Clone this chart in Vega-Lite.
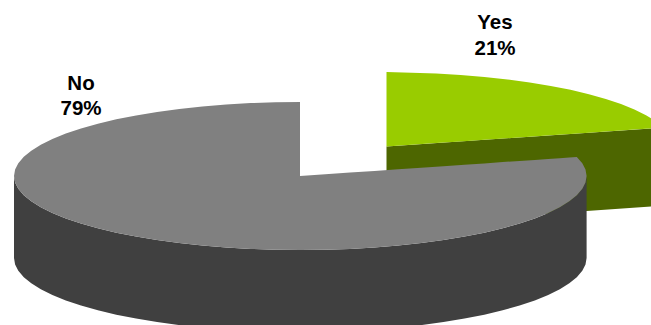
{
  "$schema": "https://vega.github.io/schema/vega-lite/v6.json",
  "width": 651,
  "height": 325,
  "padding": 0,
  "autosize": {"type": "fit", "contains": "padding"},
  "background": "white",
  "config": {"view": {"stroke": null}},
  "datasets": {
    "surfaces": [
      {"part":"Yes side","x":386.5,"y":146.5,"y2":225},
      {"part":"Yes side","x":663,"y":127.6,"y2":205.7},

      {"part":"Yes top","x":386.5,"y":72,"y2":146.5},
      {"part":"Yes top","x":411.5,"y":72.8,"y2":144.8},
      {"part":"Yes top","x":436.2,"y":73.6,"y2":143.1},
      {"part":"Yes top","x":460.6,"y":75,"y2":141.4},
      {"part":"Yes top","x":484.4,"y":77,"y2":139.8},
      {"part":"Yes top","x":507.5,"y":79.4,"y2":138.2},
      {"part":"Yes top","x":529.7,"y":82.4,"y2":136.7},
      {"part":"Yes top","x":550.7,"y":85.9,"y2":135.3},
      {"part":"Yes top","x":570.5,"y":89.8,"y2":133.9},
      {"part":"Yes top","x":588.9,"y":94.2,"y2":132.7},
      {"part":"Yes top","x":605.8,"y":98.9,"y2":131.5},
      {"part":"Yes top","x":621,"y":104.1,"y2":130.5},
      {"part":"Yes top","x":634.4,"y":109.5,"y2":129.5},
      {"part":"Yes top","x":646,"y":115.2,"y2":128.8},
      {"part":"Yes top","x":655.5,"y":121.2,"y2":128.1},
      {"part":"Yes top","x":663,"y":127.6,"y2":127.6},

      {"part":"No side","x":14,"y":176,"y2":258},
      {"part":"No side","x":15.1,"y":182.45,"y2":264.45},
      {"part":"No side","x":18.3,"y":188.85,"y2":270.85},
      {"part":"No side","x":23.8,"y":195.15,"y2":277.15},
      {"part":"No side","x":31.3,"y":201.3,"y2":283.3},
      {"part":"No side","x":40.8,"y":207.3,"y2":289.3},
      {"part":"No side","x":52.4,"y":213,"y2":295},
      {"part":"No side","x":65.8,"y":218.4,"y2":300.4},
      {"part":"No side","x":81,"y":223.6,"y2":305.6},
      {"part":"No side","x":97.9,"y":228.3,"y2":310.3},
      {"part":"No side","x":116.3,"y":232.7,"y2":314.7},
      {"part":"No side","x":136.1,"y":236.6,"y2":318.6},
      {"part":"No side","x":157.1,"y":240.1,"y2":322.1},
      {"part":"No side","x":179.3,"y":243.1,"y2":325.1},
      {"part":"No side","x":202.4,"y":245.5,"y2":327.5},
      {"part":"No side","x":226.2,"y":247.5,"y2":329.5},
      {"part":"No side","x":250.6,"y":248.9,"y2":330.9},
      {"part":"No side","x":275.3,"y":249.7,"y2":331.7},
      {"part":"No side","x":300.3,"y":250,"y2":332},
      {"part":"No side","x":325.3,"y":249.7,"y2":331.7},
      {"part":"No side","x":350,"y":248.9,"y2":330.9},
      {"part":"No side","x":374.4,"y":247.5,"y2":329.5},
      {"part":"No side","x":398.2,"y":245.5,"y2":327.5},
      {"part":"No side","x":421.3,"y":243.1,"y2":325.1},
      {"part":"No side","x":443.5,"y":240.1,"y2":322.1},
      {"part":"No side","x":464.5,"y":236.6,"y2":318.6},
      {"part":"No side","x":484.3,"y":232.7,"y2":314.7},
      {"part":"No side","x":502.7,"y":228.3,"y2":310.3},
      {"part":"No side","x":519.6,"y":223.6,"y2":305.6},
      {"part":"No side","x":534.8,"y":218.4,"y2":300.4},
      {"part":"No side","x":548.2,"y":213,"y2":295},
      {"part":"No side","x":559.8,"y":207.3,"y2":289.3},
      {"part":"No side","x":569.3,"y":201.3,"y2":283.3},
      {"part":"No side","x":576.8,"y":195.15,"y2":277.15},
      {"part":"No side","x":582.3,"y":188.85,"y2":270.85},
      {"part":"No side","x":585.5,"y":182.45,"y2":264.45},
      {"part":"No side","x":586.6,"y":176,"y2":258},

      {"part":"No top","x":14,"y":176,"y2":176},
      {"part":"No top","x":15.1,"y":169.55,"y2":182.45},
      {"part":"No top","x":18.3,"y":163.15,"y2":188.85},
      {"part":"No top","x":23.8,"y":156.85,"y2":195.15},
      {"part":"No top","x":31.3,"y":150.7,"y2":201.3},
      {"part":"No top","x":40.8,"y":144.7,"y2":207.3},
      {"part":"No top","x":52.4,"y":139,"y2":213},
      {"part":"No top","x":65.8,"y":133.6,"y2":218.4},
      {"part":"No top","x":81,"y":128.4,"y2":223.6},
      {"part":"No top","x":97.9,"y":123.7,"y2":228.3},
      {"part":"No top","x":116.3,"y":119.3,"y2":232.7},
      {"part":"No top","x":136.1,"y":115.4,"y2":236.6},
      {"part":"No top","x":157.1,"y":111.9,"y2":240.1},
      {"part":"No top","x":179.3,"y":108.9,"y2":243.1},
      {"part":"No top","x":202.4,"y":106.5,"y2":245.5},
      {"part":"No top","x":226.2,"y":104.5,"y2":247.5},
      {"part":"No top","x":250.6,"y":103.1,"y2":248.9},
      {"part":"No top","x":275.3,"y":102.3,"y2":249.7},
      {"part":"No top","x":300,"y":102,"y2":250},
      {"part":"No top","x":300.01,"y":176,"y2":250},
      {"part":"No top","x":325.3,"y":174.3,"y2":249.7},
      {"part":"No top","x":350,"y":172.6,"y2":248.9},
      {"part":"No top","x":374.4,"y":170.9,"y2":247.5},
      {"part":"No top","x":398.2,"y":169.3,"y2":245.5},
      {"part":"No top","x":421.3,"y":167.7,"y2":243.1},
      {"part":"No top","x":443.5,"y":166.2,"y2":240.1},
      {"part":"No top","x":464.5,"y":164.7,"y2":236.6},
      {"part":"No top","x":484.3,"y":163.4,"y2":232.7},
      {"part":"No top","x":502.7,"y":162.1,"y2":228.3},
      {"part":"No top","x":519.6,"y":160.9,"y2":223.6},
      {"part":"No top","x":534.8,"y":159.9,"y2":218.4},
      {"part":"No top","x":548.2,"y":159,"y2":213},
      {"part":"No top","x":559.8,"y":158.2,"y2":207.3},
      {"part":"No top","x":569.3,"y":157.5,"y2":201.3},
      {"part":"No top","x":576.8,"y":157,"y2":195.15},
      {"part":"No top","x":582.3,"y":163.15,"y2":188.85},
      {"part":"No top","x":585.5,"y":169.55,"y2":182.45},
      {"part":"No top","x":586.6,"y":176,"y2":176}
    ],
    "answers": [
      {"answer":"Yes","share":0.21,"x":495,"nameY":29,"shareY":55},
      {"answer":"No","share":0.79,"x":81,"nameY":90,"shareY":115}
    ]
  },
  "layer": [
    {
      "data": {"name": "surfaces"},
      "mark": {"type": "area", "clip": true, "interpolate": "linear"},
      "encoding": {
        "x": {"field": "x", "type": "quantitative", "axis": null, "scale": {"domain": [0, 651], "nice": false, "zero": false}},
        "y": {"field": "y", "type": "quantitative", "axis": null, "stack": null, "scale": {"domain": [325, 0], "nice": false, "zero": false}},
        "y2": {"field": "y2"},
        "color": {
          "field": "part",
          "type": "nominal",
          "legend": null,
          "scale": {
            "domain": ["Yes side", "Yes top", "No side", "No top"],
            "range": ["#4D6600", "#99CC00", "#404040", "#808080"]
          }
        }
      }
    },
    {
      "data": {"name": "answers"},
      "mark": {"type": "text", "font": "Liberation Sans", "fontWeight": "bold", "fontSize": 20.5, "baseline": "alphabetic", "align": "center", "color": "#000000"},
      "encoding": {
        "x": {"field": "x", "type": "quantitative"},
        "y": {"field": "nameY", "type": "quantitative"},
        "text": {"field": "answer", "type": "nominal"}
      }
    },
    {
      "data": {"name": "answers"},
      "mark": {"type": "text", "font": "Liberation Sans", "fontWeight": "bold", "fontSize": 20.5, "baseline": "alphabetic", "align": "center", "color": "#000000"},
      "encoding": {
        "x": {"field": "x", "type": "quantitative"},
        "y": {"field": "shareY", "type": "quantitative"},
        "text": {"field": "share", "type": "quantitative", "format": ".0%"}
      }
    }
  ]
}
